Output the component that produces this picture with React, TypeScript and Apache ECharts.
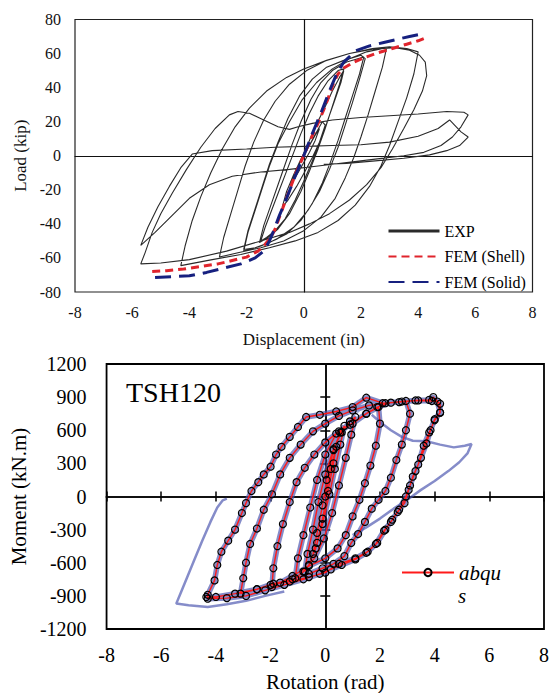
import React, { useEffect, useRef } from "react";
import * as echarts from "echarts";

const FONT = "'Liberation Serif', 'Times New Roman', 'DejaVu Serif', serif";

// ---------- Top chart: Load (kip) vs Displacement (in) ----------
const expCurve: number[][] = [
  [0, 0], [0.2, 6], [0.4, 12], [0.55, 16], [0.4, 9], [0.2, 2], [0, -4], [-0.2, -10], [-0.45, -17], [-0.3, -10], [-0.1, -3], [0.1, 3],
  [0.35, 11], [0.65, 20], [0.75, 18], [0.55, 8], [0.3, -1], [0.05, -9], [-0.25, -18], [-0.55, -26], [-0.75, -30], [-0.6, -21], [-0.35, -11], [-0.1, -2], [0.1, 5],
  [0.4, 17], [0.7, 27], [1.0, 38], [1.25, 46], [1.4, 50], [1.3, 43], [1.05, 31], [0.8, 19], [0.55, 8], [0.3, -3], [0.0, -15], [-0.3, -26], [-0.65, -37], [-1.0, -44], [-1.3, -48], [-1.5, -50], [-1.35, -42], [-1.1, -31], [-0.85, -20], [-0.6, -9], [-0.35, 2], [-0.1, 13], [0.2, 25],
  [0.5, 35], [0.85, 44], [1.2, 50], [1.4, 51], [1.25, 42], [1.0, 29], [0.75, 16], [0.5, 4], [0.2, -9], [-0.1, -21], [-0.5, -34], [-0.9, -43], [-1.25, -48], [-1.55, -51], [-1.4, -41], [-1.15, -29], [-0.9, -17], [-0.65, -5], [-0.4, 7], [-0.1, 20], [0.25, 33],
  [0.6, 43], [1.0, 50], [1.5, 55], [2.1, 58], [1.95, 48], [1.7, 35], [1.45, 22], [1.2, 9], [0.95, -3], [0.65, -16], [0.3, -28], [-0.1, -38], [-0.6, -46], [-1.2, -51], [-1.7, -54], [-2.1, -55], [-1.95, -44], [-1.7, -31], [-1.45, -18], [-1.2, -5], [-0.9, 8], [-0.55, 22], [-0.15, 35], [0.3, 45], [0.8, 52], [1.4, 56], [2.0, 59], [2.15, 57], [1.95, 45], [1.7, 31], [1.45, 18], [1.2, 5], [0.9, -8], [0.55, -21], [0.15, -32], [-0.35, -42], [-0.95, -49], [-1.5, -53], [-2.1, -56],
  [-1.95, -45], [-1.7, -32], [-1.45, -19], [-1.2, -6], [-0.9, 7], [-0.5, 20], [-0.05, 33], [0.45, 43], [1.0, 51], [1.6, 57], [2.2, 61], [2.9, 63.5], [2.75, 52], [2.5, 38], [2.25, 24], [2.0, 11], [1.75, -1], [1.45, -13], [1.1, -25], [0.6, -36], [0, -44], [-0.7, -50], [-1.5, -54], [-2.3, -57], [-2.95, -59.5], [-2.8, -48], [-2.55, -34], [-2.3, -20], [-2.05, -6], [-1.75, 8], [-1.4, 21], [-1.0, 32], [-0.5, 42], [0.1, 50], [0.8, 56], [1.6, 60], [2.4, 63], [3.0, 64],
  [3.6, 63], [4.0, 61], [3.85, 48], [3.6, 34], [3.3, 20], [3.0, 6], [2.7, -6], [2.3, -18], [1.8, -29], [1.2, -38], [0.5, -45], [-0.3, -50], [-1.2, -54], [-2.2, -58], [-3.2, -61], [-4.3, -64.5], [-4.15, -53], [-3.9, -38], [-3.6, -24], [-3.25, -10], [-2.85, 4], [-2.4, 17], [-1.9, 28], [-1.3, 38], [-0.6, 46], [0, 51], [0.8, 56], [1.6, 60], [2.4, 62.5], [3.2, 63.5], [3.7, 62], [4.05, 59], [4.25, 55], [4.3, 47],
  [4.15, 38], [3.85, 27], [3.5, 16], [3.1, 4], [2.7, -7], [2.2, -17], [1.6, -26], [0.9, -34], [0.2, -40], [-0.5, -45], [-1.5, -50], [-2.7, -56], [-4.0, -61], [-5.0, -63], [-5.7, -63.5],
  [-5.55, -57], [-5.3, -45], [-5.0, -34], [-4.6, -22], [-4.1, -8], [-3.6, 5], [-3.1, 16], [-2.6, 24], [-2.3, 26], [-1.9, 25], [-1.4, 21], [-0.9, 17], [-0.5, 15.5], [-0.2, 17], [0.3, 19], [1.0, 21], [2.0, 22.5], [3.0, 23.5], [4.0, 24.5], [5.0, 26], [5.6, 25.5], [5.75, 24],
  [5.5, 17], [5.2, 11], [4.8, 6], [4.2, 2], [3.5, 0], [2.5, -2], [1.5, -4], [0.5, -6], [-0.5, -8], [-1.5, -9.5], [-2.5, -12], [-3.3, -17], [-4.0, -25], [-4.6, -35], [-5.2, -45], [-5.7, -52.6],
  [-5.45, -42], [-5.1, -30], [-4.7, -18], [-4.3, -7], [-3.9, 1], [-3.2, 3], [-2, 4], [-1, 5], [0, 5.5], [1, 6], [2, 6.5], [3, 8], [4, 11.5], [4.7, 16], [5.1, 21], [5.3, 17.5], [5.5, 14], [5.75, 11],
  [5.45, 6], [5.0, 3], [4.4, 0.5], [3.5, -1.5], [2.5, -3], [1.5, -4.5], [0.7, -5],
];

const femShell: number[][] = [
  [-5.3, -68], [-4.8, -67.5], [-4.2, -66.5], [-3.6, -65], [-3.0, -63.5], [-2.5, -61.5], [-2.0, -59.5], [-1.6, -56], [-1.35, -52], [-1.15, -48], [-1.0, -43], [-0.85, -36], [-0.65, -27], [-0.45, -18], [-0.25, -9], [0, 0],
  [0.25, 10], [0.5, 19], [0.7, 27], [0.9, 36], [1.05, 43], [1.2, 48], [1.4, 51.5], [1.7, 54.5], [2.1, 57.5], [2.6, 60.5], [3.1, 63], [3.6, 65.5], [4.0, 67.5], [4.3, 69.5],
];

const femSolid: number[][] = [
  [-5.2, -71.5], [-4.6, -71], [-4.0, -70.5], [-3.4, -68.5], [-2.8, -66], [-2.2, -63.5], [-1.7, -60], [-1.4, -56], [-1.2, -50], [-1.05, -44], [-0.85, -35], [-0.6, -25], [-0.3, -12], [0, 0],
  [0.3, 13], [0.6, 25], [0.9, 38], [1.15, 48], [1.4, 55], [1.8, 61.5], [2.3, 64.5], [2.8, 66.5], [3.3, 68.5], [3.7, 70], [4.05, 71.2],
];

// ---------- Bottom chart: Moment (kN.m) vs Rotation (rad) ----------
const abqusCurve: number[][] = [
  [0, 0], [0.2, 250], [0.4, 450], [0.3, 300], [0.1, 50], [-0.1, -200], [-0.3, -420], [-0.45, -520], [-0.3, -330], [-0.1, -80], [0.05, 150],
  [0.3, 420], [0.55, 580], [0.7, 640], [0.55, 470], [0.35, 250], [0.15, 20], [-0.1, -250], [-0.35, -470], [-0.6, -620], [-0.75, -680], [-0.65, -520], [-0.45, -300], [-0.25, -50], [0, 200],
  [0.3, 430], [0.6, 580], [0.9, 680], [1.1, 720], [0.95, 560], [0.75, 350], [0.5, 100], [0.25, -150], [-0.05, -380], [-0.4, -560], [-0.8, -680], [-1.1, -740], [-1.0, -560], [-0.8, -350], [-0.55, -100], [-0.3, 150], [0, 380], [0.4, 570],
  [0.9, 650], [1.5, 750], [1.95, 810], [2.0, 660], [1.85, 460], [1.65, 280], [1.45, 120], [1.25, -30], [1.0, -180], [0.75, -350], [0.45, -470], [0, -560], [-0.6, -630], [-1.2, -720], [-1.65, -780], [-1.95, -820], [-1.9, -650], [-1.75, -450], [-1.55, -250], [-1.3, -50], [-1.05, 130], [-0.75, 260], [-0.4, 380], [0, 490], [0.5, 590], [1.0, 660], [1.5, 750], [1.9, 810],
  [2.4, 850], [2.95, 865], [3.1, 750], [2.95, 600], [2.8, 470], [2.6, 330], [2.4, 170], [2.2, 50], [1.95, -30], [1.7, -110], [1.45, -230], [1.2, -340], [0.95, -420], [0.7, -540], [0.3, -610], [-0.1, -650], [-0.6, -700], [-1.2, -750], [-1.9, -790], [-2.5, -840], [-3.1, -880], [-3.0, -740], [-2.9, -600], [-2.75, -430], [-2.5, -290], [-2.25, -120], [-1.95, 20], [-1.65, 200], [-1.3, 350], [-0.9, 470], [-0.45, 590], [0, 660], [0.5, 730], [1.0, 780], [1.6, 825], [2.2, 845], [2.8, 860],
  [3.4, 870], [3.9, 865], [4.1, 860], [4.2, 760], [4.0, 690], [3.8, 580], [3.6, 460], [3.4, 290], [3.2, 180], [3.05, 60], [2.9, -60], [2.65, -140], [2.4, -230], [2.15, -310], [1.85, -430], [1.5, -510], [1.1, -570], [0.6, -620], [0.2, -660], [-0.2, -700], [-0.8, -750], [-1.5, -800], [-2.2, -850], [-2.9, -900], [-3.6, -920], [-4.3, -925],
  [-4.3, -890], [-4.05, -760], [-3.95, -620], [-3.8, -500], [-3.55, -400], [-3.3, -300], [-3.05, -150], [-2.9, -60], [-2.7, 50], [-2.45, 130], [-2.25, 200], [-2.0, 270], [-1.8, 380], [-1.6, 450], [-1.3, 540], [-1.0, 630], [-0.7, 720], [-0.2, 740], [0.4, 770], [1.0, 810], [1.5, 895], [2.1, 845], [2.7, 855], [3.3, 870], [3.8, 875], [3.95, 900], [4.2, 840],
  [4.2, 760], [4.0, 700], [3.85, 600], [3.7, 480], [3.5, 350], [3.3, 230], [3.1, 100], [2.95, 0], [2.7, -120], [2.45, -210], [2.2, -300], [1.9, -420], [1.55, -500], [1.1, -560], [0.5, -610], [0, -690], [-0.6, -730], [-1.3, -770], [-2.0, -800], [-2.5, -840], [-3.3, -880], [-4.0, -910], [-4.35, -910],
];

const testInitial: number[][] = [[0, 0], [0.3, 300], [0.6, 550], [1.0, 720], [1.5, 830], [1.9, 870]];

const testRightLoop: number[][] = [
  [1.7, 740], [2.05, 665], [2.4, 600], [2.8, 540], [3.2, 505], [3.7, 500], [4.2, 470], [4.7, 445], [5.1, 460], [5.35, 475],
  [5.2, 390], [4.9, 310], [4.5, 230], [4.0, 140], [3.5, 60], [3.0, -30], [2.5, -110], [2.0, -200], [1.5, -280], [1.0, -350],
];

const testLeftLoop: number[][] = [
  [-3.6, -20], [-3.75, -35], [-3.95, -100], [-4.2, -230], [-4.5, -400], [-4.8, -580], [-5.1, -760], [-5.3, -880], [-5.45, -970],
  [-5.0, -985], [-4.3, -1000], [-3.6, -975], [-2.9, -945], [-2.2, -900], [-1.5, -860],
];

const TEST_BLUE = "rgba(75,85,175,0.68)";

function valueAxis(gridIndex: number, min: number, max: number, interval: number, extra: any) {
  return {
    type: "value",
    gridIndex,
    min,
    max,
    interval,
    splitLine: { show: false },
    axisTick: { show: false },
    axisLabel: { show: false },
    axisLine: { show: false, onZero: false },
    ...extra,
  };
}

const plain = (v: number) => String(v);

export default function App() {
  const ref = useRef<HTMLDivElement>(null);
  useEffect(() => {
    const chart = echarts.init(ref.current!, null, { renderer: "svg" });
    const zeroLine = (w: number) => ({ show: true, onZero: true, lineStyle: { color: "#111", width: w } });
    const hideSymbol = { color: "rgba(0,0,0,0)", borderWidth: 0, opacity: 0 };
    const option: any = {
      animation: false,
      backgroundColor: "#fff",
      textStyle: { fontFamily: FONT },
      title: {
        text: "TSH120",
        left: 126,
        top: 378,
        padding: 0,
        textStyle: { fontSize: 28, fontWeight: "normal", fontFamily: FONT, color: "#000" },
      },
      graphic: [
        {
          type: "text",
          left: 458,
          top: 585,
          style: { text: "s", fontSize: 21, fontStyle: "italic", fontFamily: FONT, fill: "#000" },
        },
      ],
      grid: [
        { left: 75, top: 19.5, width: 457.5, height: 272.5, show: true, borderColor: "#222", borderWidth: 1.2 },
        { left: 103, top: 364, width: 448, height: 269, show: true, borderColor: "#000", borderWidth: 1.8 },
      ],
      xAxis: [
        valueAxis(0, -8, 8, 2, {
          position: "bottom",
          axisLabel: { show: true, fontSize: 16, fontFamily: FONT, color: "#111", margin: 12, formatter: plain },
          name: "Displacement (in)",
          nameLocation: "middle",
          nameGap: 39,
          nameTextStyle: { fontSize: 17, fontFamily: FONT, color: "#111" },
        }),
        valueAxis(0, -8, 8, 2, { position: "bottom", axisLine: zeroLine(1.2) }),
        valueAxis(1, -8, 8, 2, {
          position: "bottom",
          axisLabel: { show: true, fontSize: 20, fontFamily: FONT, color: "#000", margin: 16, formatter: plain },
          name: "Rotation (rad)",
          nameLocation: "middle",
          nameGap: 42,
          nameTextStyle: { fontSize: 21, fontFamily: FONT, color: "#000" },
        }),
        valueAxis(1, -8, 8, 2, {
          position: "bottom",
          axisLine: zeroLine(1.8),
          axisTick: { show: true, inside: false, length: 5, lineStyle: { color: "#000", width: 1.5 } },
        }),
        valueAxis(1, -8, 8, 2, {
          position: "bottom",
          axisLine: zeroLine(1.8),
          axisTick: { show: true, inside: true, length: 5, lineStyle: { color: "#000", width: 1.5 } },
        }),
      ],
      yAxis: [
        valueAxis(0, -80, 80, 20, {
          position: "left",
          axisLabel: { show: true, fontSize: 16, fontFamily: FONT, color: "#111", margin: 14, formatter: plain },
          name: "Load (kip)",
          nameLocation: "middle",
          nameGap: 42,
          nameTextStyle: { fontSize: 17, fontFamily: FONT, color: "#111" },
        }),
        valueAxis(0, -80, 80, 20, { position: "left", axisLine: zeroLine(1.2) }),
        valueAxis(1, -1200, 1200, 300, {
          position: "left",
          axisLabel: { show: true, fontSize: 20, fontFamily: FONT, color: "#000", margin: 20, formatter: plain },
          name: "Moment (kN.m)",
          nameLocation: "middle",
          nameGap: 75,
          nameTextStyle: { fontSize: 21, fontFamily: FONT, color: "#000" },
        }),
        valueAxis(1, -1200, 1200, 300, {
          position: "left",
          axisLine: zeroLine(1.8),
          axisTick: { show: true, inside: false, length: 5, lineStyle: { color: "#000", width: 1.5 } },
        }),
        valueAxis(1, -1200, 1200, 300, {
          position: "left",
          axisLine: zeroLine(1.8),
          axisTick: { show: true, inside: true, length: 5, lineStyle: { color: "#000", width: 1.5 } },
        }),
      ],
      legend: [
        {
          left: 387,
          top: 223,
          orient: "vertical",
          itemWidth: 51,
          itemHeight: 14,
          itemGap: 9.5,
          padding: 0,
          textStyle: { fontSize: 16, fontFamily: FONT, color: "#000" },
          data: [
            { name: "EXP", lineStyle: { width: 3 }, itemStyle: hideSymbol },
            { name: "FEM (Shell)", itemStyle: hideSymbol },
            { name: "FEM (Solid)", itemStyle: hideSymbol },
          ],
        },
        {
          left: 401,
          top: 562,
          itemWidth: 52,
          itemHeight: 9,
          padding: 0,
          formatter: () => "abqu",
          textStyle: { fontSize: 21, fontStyle: "italic", fontFamily: FONT, color: "#000" },
          data: [{ name: "abqus" }],
        },
      ],
      series: [
        {
          name: "EXP",
          type: "line",
          xAxisIndex: 0,
          yAxisIndex: 0,
          data: expCurve,
          symbol: "none",
          lineStyle: { color: "#2a2a2a", width: 1.1 },
          itemStyle: { color: "#000" },
          z: 3,
        },
        {
          name: "FEM (Shell)",
          type: "line",
          xAxisIndex: 0,
          yAxisIndex: 0,
          data: femShell,
          symbol: "none",
          lineStyle: { color: "#e0242c", width: 3, type: [8, 5] },
          itemStyle: { color: "#e0242c" },
          z: 4,
        },
        {
          name: "FEM (Solid)",
          type: "line",
          xAxisIndex: 0,
          yAxisIndex: 0,
          data: femSolid,
          symbol: "none",
          lineStyle: { color: "#16207f", width: 3, type: [16, 8] },
          itemStyle: { color: "#16207f" },
          z: 5,
        },
        {
          type: "line",
          xAxisIndex: 2,
          yAxisIndex: 2,
          data: abqusCurve,
          symbol: "none",
          lineStyle: { color: TEST_BLUE, width: 5.5 },
          z: 2,
        },
        {
          type: "line",
          xAxisIndex: 2,
          yAxisIndex: 2,
          data: testInitial,
          symbol: "none",
          lineStyle: { color: "rgba(120,140,210,0.6)", width: 1.2 },
          z: 2,
        },
        {
          type: "line",
          xAxisIndex: 2,
          yAxisIndex: 2,
          data: testRightLoop,
          symbol: "none",
          lineStyle: { color: TEST_BLUE, width: 2.5 },
          z: 2,
        },
        {
          type: "line",
          xAxisIndex: 2,
          yAxisIndex: 2,
          data: testLeftLoop,
          symbol: "none",
          lineStyle: { color: TEST_BLUE, width: 2.5 },
          z: 2,
        },
        {
          name: "abqus",
          type: "line",
          xAxisIndex: 2,
          yAxisIndex: 2,
          data: abqusCurve,
          symbol: "circle",
          symbolSize: 7,
          showSymbol: true,
          lineStyle: { color: "#ff1a1a", width: 1.4 },
          itemStyle: { color: "rgba(255,255,255,0)", borderColor: "#000", borderWidth: 1.2 },
          z: 6,
        },
      ],
    };
    chart.setOption(option);
    return () => chart.dispose();
  }, []);
  return (
    <div
      ref={ref}
      style={{ position: "fixed", left: 0, top: 0, width: 552, height: 693, background: "#fff" }}
    />
  );
}
